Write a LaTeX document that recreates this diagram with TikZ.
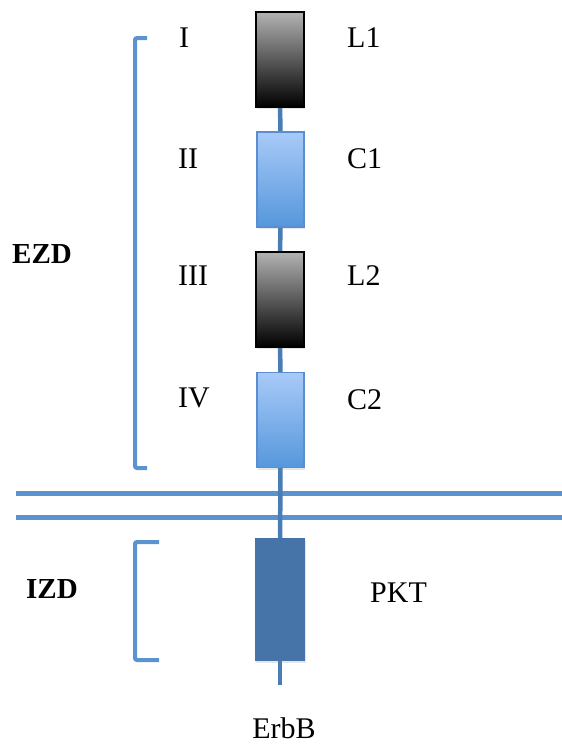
\documentclass[tikz,border=0pt]{standalone}
\usepackage{fontspec}
\setmainfont{Liberation Serif}
\usetikzlibrary{shadows,backgrounds}
\definecolor{memb}{HTML}{5B93CF}
\definecolor{stemc}{HTML}{4A7DB5}
\definecolor{cborder}{HTML}{5A8ED0}
\definecolor{ctop}{HTML}{A8CAF8}
\definecolor{cbot}{HTML}{5597DC}
\definecolor{pkt}{HTML}{4673A8}
\tikzset{
  lbox/.style={draw=black, line width=2pt, top color=black!30, middle color=black!62, bottom color=black, minimum width=48pt, minimum height=95pt, inner sep=0pt, drop shadow={opacity=0.2, shadow xshift=1pt, shadow yshift=-2pt}},
  cbox/.style={draw=cborder, line width=1.5pt, top color=ctop, bottom color=cbot, minimum width=47pt, minimum height=95pt, inner sep=0pt, drop shadow={opacity=0.2, shadow xshift=1pt, shadow yshift=-2pt}},
  pbox/.style={fill=pkt, minimum width=50pt, minimum height=123pt, inner sep=0pt, drop shadow={opacity=0.2, shadow xshift=1pt, shadow yshift=-2pt}},
  stemline/.style={draw=stemc, line width=4.5pt},
  membrane/.style={draw=memb, line width=5pt},
  bracketline/.style={draw=memb, line width=4pt, rounded corners=2pt},
  lab/.style={font=\fontsize{30}{32}\selectfont, inner sep=0pt, anchor=base west},
  blab/.style={font=\fontsize{29}{31}\selectfont\bfseries, inner sep=0pt, anchor=base west}
}
\begin{document}
\begin{tikzpicture}[x=1pt, y=-1pt]
\useasboundingbox (0,0) rectangle (562,747);
% nodes
\node[lbox] (L1) at (280,59.5) {};
\node[cbox] (C1) at (280.5,179.5) {};
\node[lbox] (L2) at (280,299.5) {};
\node[cbox] (C2) at (280.5,420) {};
\node[pbox] (PKT) at (280,599.5) {};
\coordinate (tail) at (280,685);
\coordinate (m1a) at (16,493);
\coordinate (m1b) at (562,493);
\coordinate (m2a) at (16,517);
\coordinate (m2b) at (562,517);
\begin{scope}[on background layer]
% membrane
\draw[membrane] (m1a) -- (m1b);
\draw[membrane] (m2a) -- (m2b);
% stem
\draw[stemline] (L1.center) -- (C1.center);
\draw[stemline] (C1.center) -- (L2.center);
\draw[stemline] (L2.center) -- (C2.center);
\draw[stemline] (C2.center) -- (PKT.center);
\draw[stemline] (PKT.center) -- (tail);
\end{scope}
% brackets
\draw[bracketline] (147,38) -- (135,38) -- (135,468) -- (147,468);
\draw[bracketline] (159,542) -- (135,542) -- (135,660) -- (159,660);
% labels
\node[lab] (tI) at (179,47) {I};
\node[lab] (tL1) at (347,47) {L1};
\node[lab] (tII) at (178,168) {II};
\node[lab] (tC1) at (347,168) {C1};
\node[lab] (tIII) at (178,285) {III};
\node[lab] (tL2) at (347,285) {L2};
\node[lab] (tIV) at (178,407) {IV};
\node[lab] (tC2) at (347,409) {C2};
\node[blab] (tEZD) at (12,263) {EZD};
\node[blab] (tIZD) at (26,598) {IZD};
\node[lab] (tPKT) at (370,602) {PKT};
\node[lab, anchor=base] (tErbB) at (284,738) {ErbB};
\end{tikzpicture}
\end{document}
